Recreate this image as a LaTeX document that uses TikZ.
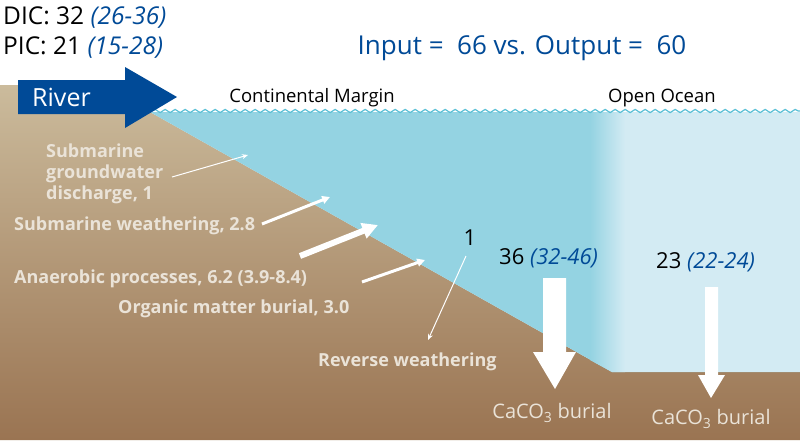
\documentclass[tikz,border=0pt]{standalone}
\usepackage{fontspec}
\setmainfont{Open Sans}
\usetikzlibrary{decorations.pathmorphing,arrows.meta}
\definecolor{navy}{HTML}{004A97}
\definecolor{sea}{HTML}{94D3E2}
\definecolor{ocean}{HTML}{D3EBF3}
\definecolor{sandtop}{HTML}{CBBB9C}
\definecolor{sandbot}{HTML}{9A7452}
\definecolor{lbl}{HTML}{EAE3D8}
\definecolor{wave}{HTML}{5BC0D6}
\begin{document}
\begin{tikzpicture}[x=1pt,y=-1pt,
  lab/.style={text=lbl,font=\bfseries\fontsize{18}{21}\selectfont,inner sep=0pt},
  flux/.style={draw=white,-{Triangle[length=#1*2.6,width=#1*2.6]},line width=#1},
  num/.style={font=\fontsize{22}{26}\selectfont,inner sep=0pt},
  burial/.style={text=lbl,font=\fontsize{20}{24}\selectfont,inner sep=0pt}]
\useasboundingbox (0,0) rectangle (800,440);
\fill[white] (0,0) rectangle (800,440);
% sediment
\shade[top color=sandtop,bottom color=sandbot] (0,85) -- (145,85) -- (150,112) -- (612,372) -- (800,372) -- (800,440) -- (0,440) -- cycle;
% water
\fill[sea] (150,112) -- (800,112) -- (800,372) -- (612,372) -- cycle;
\fill[ocean] (612,112) rectangle (800,372);
\shade[left color=sea,right color=ocean] (590,112) -- (625,112) -- (625,372) -- (612,372) -- (590,360) -- cycle;
\draw[wave,line width=1.2pt,decorate,decoration={snake,segment length=10,amplitude=1.6}] (152,111) -- (800,111);
% river arrow
\fill[navy] (18,80) -- (125,80) -- (125,67) -- (177,97) -- (125,128) -- (125,114) -- (18,114) -- cycle;
\node[text=white,font=\fontsize{25}{30}\selectfont,anchor=west,inner sep=0pt] (river) at (32,97) {River};
% titles
\node[anchor=west,font=\fontsize{24.5}{29}\selectfont,inner sep=0pt] (dic) at (3,18) {DIC: 32 \textcolor{navy}{\itshape (26-36)}};
\node[anchor=west,font=\fontsize{24.5}{29}\selectfont,inner sep=0pt] (pic) at (3,48) {PIC: 21 \textcolor{navy}{\itshape (15-28)}};
\node[text=navy,font=\fontsize{26}{31}\selectfont,inner sep=0pt] (io) at (522,48) {Input =\ \ 66 vs. Output =\ \ 60};
\node[font=\fontsize{18.5}{22}\selectfont,inner sep=0pt] (cm) at (312,98) {Continental Margin};
\node[font=\fontsize{18.5}{22}\selectfont,inner sep=0pt] (oo) at (662,98) {Open Ocean};
% labels
\node[lab,anchor=north west,align=left] (sgd) at (46,144) {Submarine\\groundwater\\discharge, 1};
\node[lab,anchor=west] (sw) at (14,226) {Submarine weathering, 2.8};
\node[lab,anchor=west] (an) at (14,279) {Anaerobic processes, 6.2 (3.9-8.4)};
\node[lab,anchor=west] (om) at (118,309) {Organic matter burial, 3.0};
\node[lab,anchor=west] (rw) at (318,362) {Reverse weathering};
\coordinate (sgdS) at (172,177);
\coordinate (sgdE) at (248,155);
\coordinate (swS) at (262,224);
\coordinate (swE) at (330,197);
\coordinate (anS) at (300,256);
\coordinate (anE) at (378,225);
\coordinate (omS) at (362,282);
\coordinate (omE) at (425,260);
\draw[white,line width=1pt,-{Stealth[length=6,width=5]}] (sgdS) -- (sgdE);
\draw[flux=3] (swS) -- (swE);
\draw[flux=6] (anS) -- (anE);
\draw[flux=3] (omS) -- (omE);
\node[num] (one) at (470,238) {1};
\coordinate (rwS) at (466,256);
\coordinate (rwE) at (428,340);
\draw[white,line width=1pt,-{Stealth[length=6,width=5]}] (rwS) -- (rwE);
% CaCO3
\node[num,anchor=west] (n36) at (499,258) {36 \textcolor{navy}{\itshape (32-46)}};
\node[num,anchor=west] (n23) at (656,262) {23 \textcolor{navy}{\itshape (22-24)}};
\fill[white] (543,278) -- (566,278) -- (566,352) -- (576,352) -- (555,389) -- (533,352) -- (543,352) -- cycle;
\fill[white] (705,287) -- (718,287) -- (718,375) -- (725,375) -- (711,398) -- (698,375) -- (705,375) -- cycle;
\node[burial] (b1) at (552,413) {CaCO\textsubscript{3} burial};
\node[burial] (b2) at (711,419) {CaCO\textsubscript{3} burial};
\end{tikzpicture}
\end{document}
